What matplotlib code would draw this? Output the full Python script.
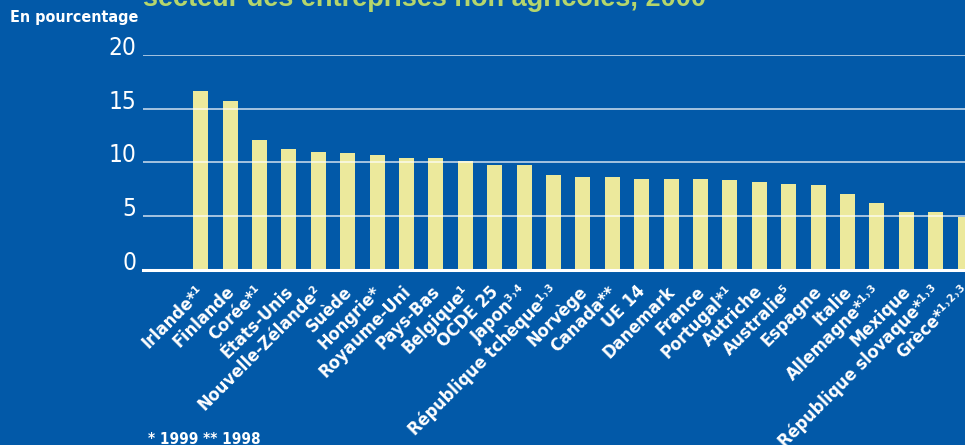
import numpy as np
import matplotlib.pyplot as plt

pays = ["Irlande*¹", "Finlande", "Corée*¹", "États-Unis",
        "Nouvelle-Zélande²", "Suède", "Hongrie*", "Royaume-Uni",
        "Pays-Bas", "Belgique¹", "OCDE 25", "Japon³˒⁴",
        "République tchèque¹˒³", "Norvège", "Canada**", "UE 14",
        "Danemark", "France", "Portugal*¹", "Autriche",
        "Australie⁵", "Espagne", "Italie", "Allemagne*¹˒³",
        "Mexique", "République slovaque*¹˒³", "Grèce*¹˒²˒³"]
valeurs = [16.6, 15.7, 12.1, 11.2, 11.0, 10.9, 10.7, 10.4, 10.4, 10.1,
           9.7, 9.7, 8.8, 8.6, 8.6, 8.4, 8.4, 8.4, 8.3, 8.2,
           8.0, 7.9, 7.0, 6.2, 5.4, 5.4, 4.9]
yticks = [0, 5, 10, 15, 20]

bleu = '#0259a8'
jaune = '#ece99c'
vert = '#b5d66c'
police = ['DejaVu Sans']

fig = plt.figure(figsize=(9.65, 4.45), dpi=100, facecolor=bleu)
W, H = 965, 445
ax = fig.add_axes([143 / W, 1 - 269.5 / H, (W - 143) / W, (269.5 - 55) / H])
ax.set_facecolor(bleu)

x = np.arange(len(pays))
ax.bar(x, valeurs, width=0.51, color=jaune, zorder=2)
ax.set_xlim(-1.96, 26.0)
ax.set_ylim(0, 20)

for v in yticks[1:]:
    ax.axhline(v, color='white', alpha=0.75, lw=1.2, zorder=3)
ax.axhline(0, color='white', lw=2.2, zorder=4, clip_on=False)

for s in ax.spines.values():
    s.set_visible(False)
ax.set_xticks([])
ax.set_yticks(yticks)
ax.tick_params(axis='y', length=0, pad=5, labelsize=17.5, labelcolor='white')
for lbl in ax.get_yticklabels():
    lbl.set_family(police)
    lbl.set_stretch('condensed')
    lbl.set_va('baseline')

# noms des pays en diagonale sous l'axe
for xi, nom in zip(x, pays):
    ax.annotate(nom, xy=(xi, 0), xycoords='data', xytext=(-5, -13),
                textcoords='offset pixels', rotation=45, rotation_mode='anchor',
                ha='right', va='top', color='white', fontsize=13,
                fontweight='bold', family=police, fontstretch='condensed',
                annotation_clip=False)

fig.text(10 / W, 1 - 22 / H, "En pourcentage", color='white', fontsize=11.5,
         fontweight='bold', family=police, fontstretch='condensed',
         va='baseline', ha='left')
fig.text(143 / W, 1 - 6 / H, "secteur des entreprises non agricoles, 2000",
         color=vert, fontsize=19.5, fontweight='bold',
         family=['Liberation Sans', 'DejaVu Sans'], va='baseline', ha='left')
fig.text(148 / W, 1 - 432 / H, "* 1999 ** 1998", color='white', fontsize=11,
         fontweight='bold', family=police, fontstretch='condensed',
         va='top', ha='left')

fig.savefig('out.png', dpi=100, facecolor=bleu)
